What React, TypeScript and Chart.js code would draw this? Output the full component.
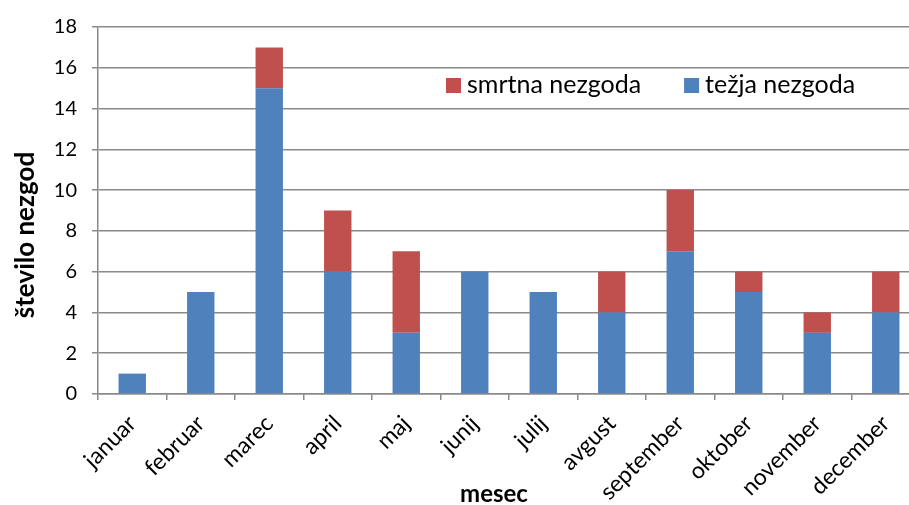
import React, { useEffect, useRef } from "react";
import { Chart, registerables } from "chart.js";

Chart.register(...registerables);

const months = ["januar", "februar", "marec", "april", "maj", "junij", "julij", "avgust", "september", "oktober", "november", "december"];
const tezjaNezgoda = [1, 5, 15, 6, 3, 6, 5, 4, 7, 5, 3, 4];
const smrtnaNezgoda = [0, 0, 2, 3, 4, 0, 0, 2, 3, 1, 1, 2];
const yMin = 0;
const yMax = 18;
const yStep = 2;

const BLUE = "#4F81BD";
const RED = "#C0504D";
const GRID = "#8a8a8a";
const FONT = "Lato, 'Open Sans', sans-serif";

const extrasPlugin = {
  id: "extras",
  afterDraw(chart: any) {
    const { ctx, chartArea } = chart;
    ctx.save();
    // legend inside plot area
    ctx.font = `25px ${FONT}`;
    ctx.textBaseline = "alphabetic";
    ctx.textAlign = "left";
    const items = [chart.data.datasets[1], chart.data.datasets[0]];
    let x = chartArea.left + 348;
    const boxTop = chartArea.top + 51;
    const baseline = chartArea.top + 66;
    items.forEach((ds: any) => {
      ctx.fillStyle = ds.backgroundColor;
      ctx.fillRect(x, boxTop, 15, 15);
      ctx.fillStyle = "#000";
      ctx.fillText(ds.label, x + 21, baseline);
      x += 21 + ctx.measureText(ds.label).width + 43;
    });
    // axis titles
    ctx.fillStyle = "#000";
    ctx.textAlign = "center";
    ctx.font = `bold 24px ${FONT}`;
    ctx.fillText("mesec", chartArea.left + 396, chartArea.bottom + 108);
    ctx.font = `bold 26px ${FONT}`;
    ctx.translate(chartArea.left - 64, chartArea.top + 208);
    ctx.rotate(-Math.PI / 2);
    ctx.fillText("število nezgod", 0, 0);
    ctx.restore();
  },
};

export default function App() {
  const ref = useRef<HTMLCanvasElement>(null);
  useEffect(() => {
    if (!ref.current) return;
    const chart = new Chart(ref.current, {
      type: "bar",
      data: {
        labels: months,
        datasets: [
          { label: "težja nezgoda", data: tezjaNezgoda, backgroundColor: BLUE, borderWidth: 0 },
          { label: "smrtna nezgoda", data: smrtnaNezgoda, backgroundColor: RED, borderWidth: 0 },
        ],
      },
      options: {
        responsive: false,
        animation: false,
        layout: { padding: { top: 22, right: 10, bottom: 0, left: 0 } },
        datasets: { bar: { categoryPercentage: 1, barPercentage: 0.4 } },
        plugins: { legend: { display: false }, tooltip: { enabled: false } },
        scales: {
          x: {
            stacked: true,
            afterFit: (s: any) => { s.height = 111; },
            grid: { drawOnChartArea: false, drawTicks: true, tickLength: 6, color: GRID, lineWidth: 1.5, offset: true },
            border: { display: true, color: GRID, width: 1.5 },
            ticks: { color: "#000", font: { family: FONT, size: 23 }, minRotation: 45, maxRotation: 45, padding: 10, autoSkip: false },
          },
          y: {
            stacked: true,
            min: yMin,
            max: yMax,
            afterFit: (s: any) => { s.width = 98; },
            grid: { drawOnChartArea: true, drawTicks: true, tickLength: 6, color: GRID, lineWidth: 1.5 },
            border: { display: true, color: GRID, width: 1.5 },
            ticks: { stepSize: yStep, color: "#000", font: { family: FONT, size: 20 }, padding: 15 },
          },
        },
      },
      plugins: [extrasPlugin],
    });
    return () => chart.destroy();
  }, []);
  return (
    <div style={{ position: "fixed", left: 0, top: 0, width: 909, height: 505, overflow: "hidden", background: "#fff" }}>
      <canvas ref={ref} width={930} height={505} style={{ display: "block" }} />
    </div>
  );
}
